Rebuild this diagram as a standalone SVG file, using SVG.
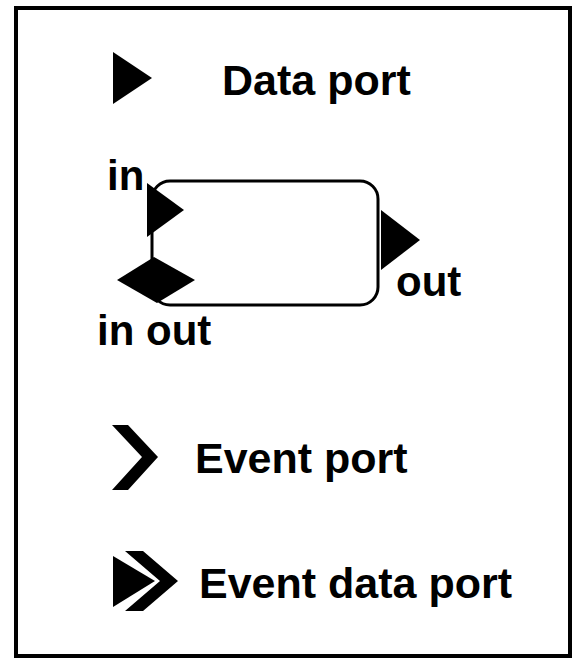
<svg xmlns="http://www.w3.org/2000/svg" width="577" height="662" viewBox="0 0 577 662">
  <style>
    .lbl { font-family: "Liberation Sans", Arial, sans-serif; font-weight: bold; font-size: 43px; fill: #000; }
    .sm { font-size: 42px; }
    .port { fill: #000; stroke: none; }
    .frame { fill: #fff; stroke: #000; stroke-width: 4; }
    .comp { fill: #fff; stroke: #000; stroke-width: 3; }
  </style>
  <rect width="577" height="662" fill="#fff"/>
  <rect id="legend-frame" class="frame" x="16" y="8" width="554" height="648"/>

  <!-- Legend entry: data port -->
  <g id="data-port">
    <polygon class="port" points="113,52 152,78 113,104"/>
    <text class="lbl" x="222" y="95">Data port</text>
  </g>

  <!-- Sample component with its ports -->
  <g id="component">
    <rect class="comp" x="152" y="181" width="226" height="124" rx="18" ry="18"/>
    <polygon id="port-in" class="port" points="147,183 184,210 147,237"/>
    <polygon id="port-inout" class="port" points="117,280 154,257 195,280 157,303"/>
    <polygon id="port-out" class="port" points="381,210 420,240 381,270"/>
    <text class="lbl sm" x="107" y="190">in</text>
    <text class="lbl sm" x="396" y="296">out</text>
    <text class="lbl sm" x="97" y="345">in out</text>
  </g>

  <g id="connectors"/>

  <!-- Legend entry: event port -->
  <g id="event-port">
    <polygon class="port" points="112,425 128,425 158,457 128,490 112,490 142,457"/>
    <text class="lbl" x="195" y="473">Event port</text>
  </g>

  <!-- Legend entry: event data port -->
  <g id="event-data-port">
    <polygon class="port" points="113,556 155,581 113,607"/>
    <polygon class="port" points="125,551 143,551 178,581 143,611 125,611 160,581"/>
    <text class="lbl" x="199" y="598">Event data port</text>
  </g>
</svg>
